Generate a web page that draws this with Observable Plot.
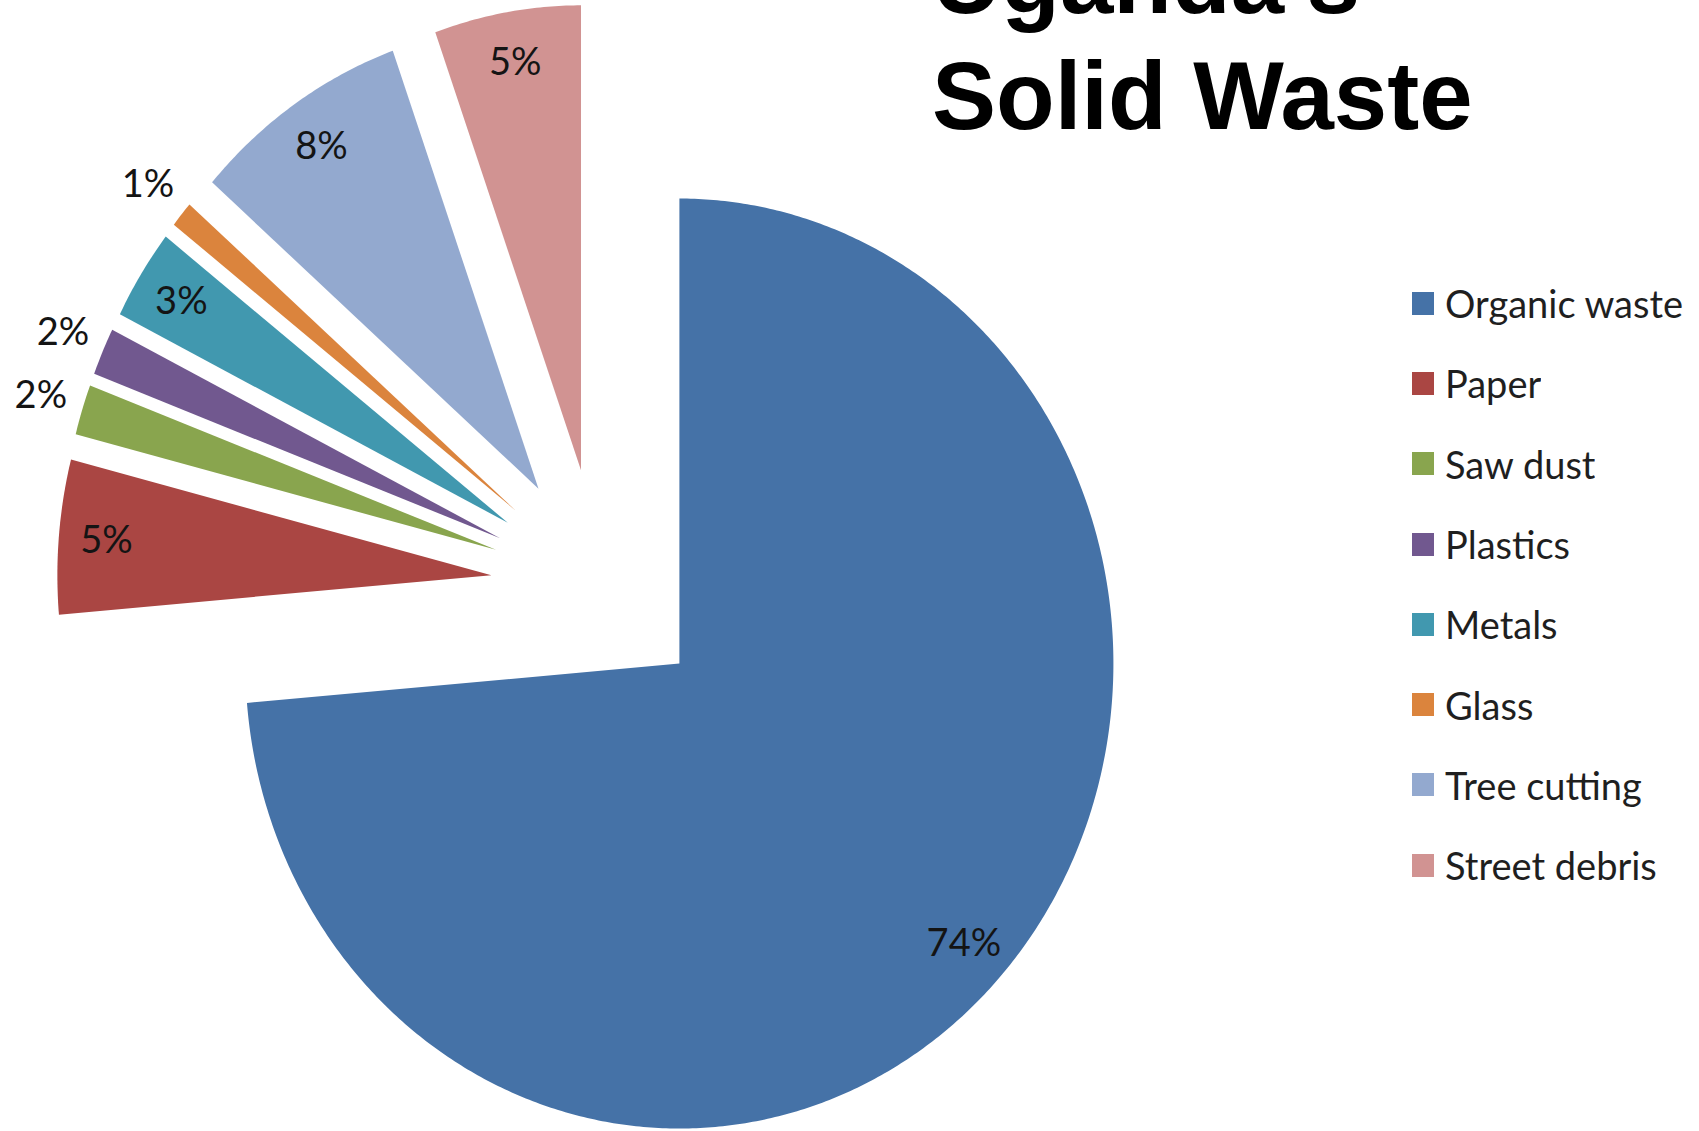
<!DOCTYPE html>
<html>
<head>
<meta charset="utf-8">
<script src="https://cdn.jsdelivr.net/npm/d3@7"></script>
<script src="https://cdn.jsdelivr.net/npm/@observablehq/plot@0.6"></script>
<style>
  html, body { margin: 0; padding: 0; background: #fff; }
  #wrap { position: relative; width: 1699px; height: 1131px; overflow: hidden; background: #fff; }
  #chart { position: absolute; left: 0; top: 0; }
  #title {
    position: absolute; left: 932px; top: -78px;
    font-family: "Liberation Sans", Arial, sans-serif; font-weight: bold;
    font-size: 96px; line-height: 116px; color: #000; white-space: nowrap;
  }
  #legend { position: absolute; left: 1412px; top: 263px; width: 287px; }
  #legend .lg-swatches { font-family: Lato, "Noto Sans", sans-serif !important; font-size: 38px !important; color: #1f1f1f !important; margin: 0 !important; }
  #legend .lg-swatch { height: 80.3px; padding-bottom: 0 !important; margin: 0 !important; display: flex; align-items: center; }
  #legend .lg-swatch svg { margin-right: 11px !important; }
</style>
</head>
<body>
<div id="wrap">
  <div id="chart"></div>
  <div id="title">Uganda's<br>Solid Waste</div>
  <div id="legend"></div>
</div>
<script>
// ---- data ----
const categories = ["Organic waste", "Paper", "Saw dust", "Plastics", "Metals", "Glass", "Tree cutting", "Street debris"];
const shares = [73.65, 5.35, 1.75, 1.65, 3.15, 0.9, 8.1, 5.45];
const colors = ["#4572A7", "#AA4643", "#89A54E", "#71588F", "#4198AF", "#DB843D", "#93A9CF", "#D19392"];

// ---- layout ----
const W = 1699, H = 1131;
const centerX = 599, centerY = 584.4;   // pie centre (px)
const radiusX = 434, radiusY = 465;     // pie radii (px)
const explode = 0.25;                   // slice explosion (fraction of radius)
const insideR = 0.89, outsideR = 1.10, outsideBelow = 2.5;

const total = d3.sum(shares);
let acc = 0;
const slices = categories.map((name, i) => {
  const a0 = acc / total * 2 * Math.PI;
  acc += shares[i];
  const a1 = acc / total * 2 * Math.PI;
  const mid = (a0 + a1) / 2;
  return {name, share: shares[i], a0, a1, mid,
          ax: explode * Math.sin(mid), ay: explode * Math.cos(mid)};
});

const pts = [];
for (const s of slices) {
  pts.push({name: s.name, x: s.ax, y: s.ay});
  const n = Math.max(4, Math.ceil((s.a1 - s.a0) / (Math.PI / 360)));
  for (let k = 0; k <= n; ++k) {
    const t = s.a0 + (s.a1 - s.a0) * k / n;
    pts.push({name: s.name, x: s.ax + Math.sin(t), y: s.ay + Math.cos(t)});
  }
  pts.push({name: s.name, x: s.ax, y: s.ay});
}

const labels = slices.map(s => {
  const pct = s.share / total * 100;
  const r = pct < outsideBelow ? outsideR : insideR;
  return {x: s.ax + r * Math.sin(s.mid), y: s.ay + r * Math.cos(s.mid), text: Math.round(pct) + "%"};
});

const chart = Plot.plot({
  width: W, height: H, margin: 0,
  x: {domain: [-centerX / radiusX, (W - centerX) / radiusX], axis: null},
  y: {domain: [-(H - centerY) / radiusY, centerY / radiusY], axis: null},
  color: {domain: categories, range: colors},
  style: {background: "transparent", overflow: "visible"},
  marks: [
    Plot.line(pts, {x: "x", y: "y", z: "name", fill: "name", stroke: "none", curve: "linear"}),
    Plot.text(labels, {x: "x", y: "y", text: "text", fontSize: 38, fontFamily: "Lato, 'Noto Sans', sans-serif", fill: "#141414"})
  ]
});
document.getElementById("chart").appendChild(chart);

const legend = Plot.legend({
  color: {domain: categories, range: colors},
  legend: "swatches", columns: 1,
  swatchWidth: 22, swatchHeight: 23,
  className: "lg"
});
document.getElementById("legend").appendChild(legend);
</script>
</body>
</html>
